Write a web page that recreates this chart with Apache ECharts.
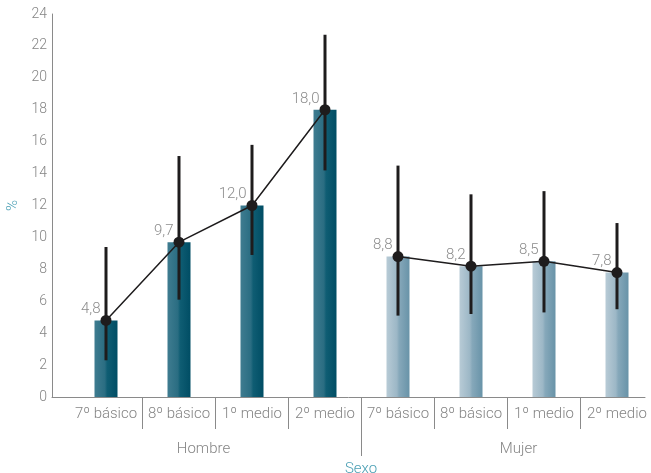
<!DOCTYPE html>
<html>
<head>
<meta charset="utf-8">
<script src="https://cdn.jsdelivr.net/npm/echarts@6/dist/echarts.min.js"></script>
<style>html,body{margin:0;padding:0;background:#fff}#c{width:651px;height:473px}</style>
</head>
<body>
<div id="c"></div>
<script>
const categories = ['7º básico','8º básico','1º medio','2º medio','7º básico','8º básico','1º medio','2º medio'];
const groups = ['', 'Hombre', 'Mujer', ''];
const hombre = [4.8, 9.7, 12.0, 18.0];
const mujer = [8.8, 8.2, 8.5, 7.8];
const ciLow = [2.3, 6.1, 8.9, 14.2, 5.1, 5.2, 5.3, 5.5];
const ciHigh = [9.4, 15.1, 15.8, 22.7, 14.5, 12.7, 12.9, 10.9];
const yTicks = {min: 0, max: 24, interval: 2};

const FONT = 'Roboto';
const GRAY = '#858585';
const TEAL = '#4a9fb4';
const hombreData = hombre.concat(mujer.map(() => '-'));
const mujerData = hombre.map(() => '-').concat(mujer);
const fmt = p => (typeof p.value === 'number' ? p.value.toFixed(1).replace('.', ',') : '');

const chart = echarts.init(document.getElementById('c'), null, {renderer: 'canvas'});
const gTop = 14, gBottom = 76;
chart.setOption({
  animation: false,
  textStyle: {fontFamily: FONT},
  grid: [
    {left: 52, right: 6, top: gTop, bottom: gBottom, outerBoundsMode: 'none', containLabel: false},
    {left: 69.5, right: -2.5, top: gTop, bottom: gBottom, outerBoundsMode: 'none', containLabel: false},
    {left: -269, right: -340, top: gTop, bottom: gBottom, outerBoundsMode: 'none', containLabel: false}
  ],
  xAxis: [
    {gridIndex: 0, type: 'value', min: 0, max: 1, axisLine: {show: true, onZero: false, lineStyle: {color: '#8a8a8a', width: 1}},
     axisTick: {show: false}, axisLabel: {show: false}, splitLine: {show: false}},
    {gridIndex: 1, type: 'category', data: categories, axisLine: {show: false},
     axisTick: {show: true, length: 32, lineStyle: {color: '#8a8a8a'}, interval: (i) => i !== 0},
     axisLabel: {color: GRAY, fontSize: 15, fontWeight: 300, margin: 10, interval: 0}},
    {gridIndex: 2, type: 'category', data: groups, axisLine: {show: false},
     axisTick: {show: true, length: 59, lineStyle: {color: '#8a8a8a'}, interval: (i) => i >= 2},
     axisLabel: {color: GRAY, fontSize: 15, fontWeight: 300, margin: 45, interval: 0},
     name: 'Sexo', nameLocation: 'middle', nameGap: 46,
     nameTextStyle: {color: TEAL, fontSize: 15, fontWeight: 300}}
  ],
  yAxis: [
    {gridIndex: 0, type: 'value', min: yTicks.min, max: yTicks.max, interval: yTicks.interval,
     axisLine: {show: true, lineStyle: {color: '#8a8a8a', width: 1}}, axisTick: {show: false},
     splitLine: {show: false}, axisLabel: {color: GRAY, fontSize: 14, fontWeight: 300, margin: 5},
     name: '%', nameLocation: 'middle', nameGap: 27, nameRotate: 90,
     nameTextStyle: {color: TEAL, fontSize: 15, fontWeight: 300}},
    {gridIndex: 1, type: 'value', min: yTicks.min, max: yTicks.max, show: false},
    {gridIndex: 2, type: 'value', min: yTicks.min, max: yTicks.max, show: false}
  ],
  series: [
    {type: 'bar', name: 'Hombre', xAxisIndex: 1, yAxisIndex: 1, data: hombreData, barWidth: 23, barGap: '-100%',
     itemStyle: {color: new echarts.graphic.LinearGradient(0, 0, 1, 0, [
       {offset: 0, color: '#3f7c90'}, {offset: 0.45, color: '#2a6d82'}, {offset: 0.55, color: '#0f5d73'}, {offset: 1, color: '#004d64'}])}},
    {type: 'bar', name: 'Mujer', xAxisIndex: 1, yAxisIndex: 1, data: mujerData, barWidth: 23, barGap: '-100%',
     itemStyle: {color: new echarts.graphic.LinearGradient(0, 0, 1, 0, [
       {offset: 0, color: '#b8cbd6'}, {offset: 0.45, color: '#9cb7c6'}, {offset: 0.55, color: '#86a8ba'}, {offset: 1, color: '#6893a8'}])}},
    {type: 'custom', xAxisIndex: 1, yAxisIndex: 1, z: 3,
     data: categories.map((c, i) => [i, ciLow[i], ciHigh[i]]),
     renderItem: (params, api) => {
       const a = api.coord([api.value(0), api.value(1)]);
       const b = api.coord([api.value(0), api.value(2)]);
       return {type: 'line', shape: {x1: a[0], y1: a[1], x2: b[0], y2: b[1]},
               style: {stroke: '#1e1c1d', lineWidth: 3}};
     }},
    {type: 'line', xAxisIndex: 1, yAxisIndex: 1, data: hombreData, z: 4, symbol: 'circle', symbolSize: 11,
     lineStyle: {color: '#1e1c1d', width: 1.5}, itemStyle: {color: '#1e1c1d'},
     label: {show: true, position: 'left', distance: 0, offset: [0, -11], color: '#8c8c8c', fontSize: 15, fontWeight: 300, formatter: fmt}},
    {type: 'line', xAxisIndex: 1, yAxisIndex: 1, data: mujerData, z: 4, symbol: 'circle', symbolSize: 11,
     lineStyle: {color: '#1e1c1d', width: 1.5}, itemStyle: {color: '#1e1c1d'},
     label: {show: true, position: 'left', distance: 0, offset: [0, -11], color: '#8c8c8c', fontSize: 15, fontWeight: 300, formatter: fmt}}
  ]
});
</script>
</body>
</html>
